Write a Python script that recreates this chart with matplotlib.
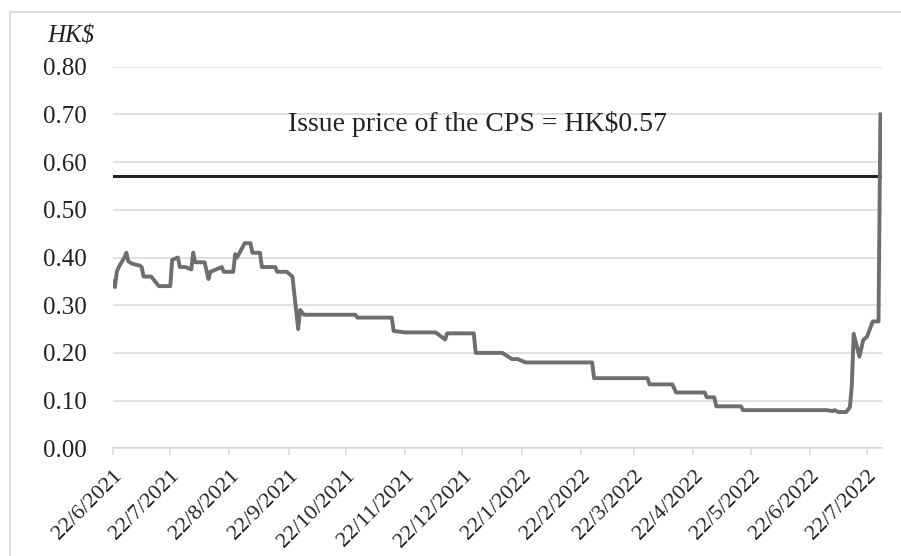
import matplotlib
matplotlib.use("Agg")
import matplotlib.pyplot as plt
import matplotlib.patches as mpatches
import pandas as pd

plt.rcParams['font.family'] = ['Liberation Serif', 'DejaVu Serif']

# closing prices (breakpoints)
dates = [
    "2021-06-22", "2021-06-23", "2021-06-24", "2021-06-25", "2021-06-28", "2021-06-29",
    "2021-06-30", "2021-07-02", "2021-07-06", "2021-07-07", "2021-07-08", "2021-07-12",
    "2021-07-14", "2021-07-16", "2021-07-22", "2021-07-23", "2021-07-26", "2021-07-27",
    "2021-07-30", "2021-08-02", "2021-08-03", "2021-08-04", "2021-08-09", "2021-08-11",
    "2021-08-12", "2021-08-18", "2021-08-19", "2021-08-24", "2021-08-25", "2021-08-26",
    "2021-08-30", "2021-09-02", "2021-09-03", "2021-09-07", "2021-09-08", "2021-09-15",
    "2021-09-16", "2021-09-21", "2021-09-24", "2021-09-27", "2021-09-28", "2021-09-30",
    "2021-10-27", "2021-10-28", "2021-11-15", "2021-11-16", "2021-11-22", "2021-12-08",
    "2021-12-10", "2021-12-13", "2021-12-14", "2021-12-28", "2021-12-29", "2022-01-12",
    "2022-01-17", "2022-01-20", "2022-01-24", "2022-02-28", "2022-03-01", "2022-03-29",
    "2022-03-30", "2022-04-11", "2022-04-13", "2022-04-28", "2022-04-29", "2022-05-03",
    "2022-05-04", "2022-05-17", "2022-05-18", "2022-07-01", "2022-07-04", "2022-07-05",
    "2022-07-07", "2022-07-11", "2022-07-13", "2022-07-14", "2022-07-15", "2022-07-18",
    "2022-07-20", "2022-07-22", "2022-07-25", "2022-07-28", "2022-07-29",
]
prices = [
    0.350, 0.338, 0.370, 0.380, 0.400, 0.410,
    0.392, 0.387, 0.383, 0.380, 0.360, 0.360,
    0.350, 0.340, 0.340, 0.395, 0.400, 0.380,
    0.380, 0.375, 0.410, 0.390, 0.390, 0.355,
    0.370, 0.380, 0.370, 0.370, 0.407, 0.400,
    0.430, 0.430, 0.410, 0.410, 0.380, 0.380,
    0.370, 0.370, 0.360, 0.250, 0.290, 0.280,
    0.280, 0.274, 0.274, 0.246, 0.243, 0.243,
    0.237, 0.228, 0.241, 0.241, 0.200, 0.200,
    0.187, 0.187, 0.180, 0.180, 0.147, 0.147,
    0.134, 0.134, 0.117, 0.117, 0.107, 0.107,
    0.088, 0.088, 0.080, 0.080, 0.078, 0.080,
    0.076, 0.076, 0.086, 0.130, 0.240, 0.192,
    0.227, 0.234, 0.266, 0.266, 0.700,
]
issue_price = 0.57

tick_dates = ["2021-06-22", "2021-07-22", "2021-08-22", "2021-09-22", "2021-10-22",
              "2021-11-22", "2021-12-22", "2022-01-22", "2022-02-22", "2022-03-22",
              "2022-04-22", "2022-05-22", "2022-06-22", "2022-07-22"]
tick_labels = ["22/6/2021", "22/7/2021", "22/8/2021", "22/9/2021", "22/10/2021",
               "22/11/2021", "22/12/2021", "22/1/2022", "22/2/2022", "22/3/2022",
               "22/4/2022", "22/5/2022", "22/6/2022", "22/7/2022"]
y_ticks = [0.0, 0.1, 0.2, 0.3, 0.4, 0.5, 0.6, 0.7, 0.8]

W, H = 901, 556
fig = plt.figure(figsize=(W / 100, H / 100), dpi=100)
ax = fig.add_axes([113 / W, 1 - 448.3 / H, (882 - 113) / W, (448.3 - 66.7) / H])

x = pd.to_datetime(dates)
ax.plot(x, prices, color="#6d6e72", linewidth=2.8, solid_joinstyle="round", zorder=3)
ax.axhline(issue_price, color="#222222", linewidth=2.2, zorder=2)

ax.set_ylim(0, 0.8)
ax.set_xlim(pd.Timestamp("2021-06-22"), pd.Timestamp("2022-07-29 20:00"))

ax.set_yticks(y_ticks)
ax.set_yticklabels([f"{v:.2f}" for v in y_ticks], fontsize=18, color="#222222")
ax.yaxis.grid(True, color="#d9d9d9", linewidth=1.1)
ax.set_axisbelow(True)
ax.tick_params(axis="y", length=0, pad=19)

ax.set_xticks(pd.to_datetime(tick_dates))
ax.set_xticklabels(tick_labels, fontsize=16, color="#222222", rotation=45,
                   ha="right", va="top", rotation_mode="anchor")
ax.tick_params(axis="x", length=5, width=1.1, color="#d9d9d9", pad=8)

for s in ["top", "right", "left"]:
    ax.spines[s].set_visible(False)
ax.spines["bottom"].set_color("#d9d9d9")
ax.spines["bottom"].set_linewidth(1.1)

ax.text(0.2276, 0.85, "Issue price of the CPS = HK$0.57", transform=ax.transAxes,
        fontsize=20, color="#222222", ha="left", va="center")

fig.text(47 / W, 1 - 42 / H, "HK$", fontsize=18, style="italic", color="#222222",
         ha="left", va="baseline")

# chart-area frame (only left and top visible, rest cropped)
frame = mpatches.Rectangle((9.5 / W, -0.1), 1.2, 1.1 - 11.5 / H, transform=fig.transFigure,
                           fill=False, edgecolor="#d9d9d9", linewidth=1.3, clip_on=False)
fig.patches.append(frame)

fig.savefig("out.png", dpi=100)
